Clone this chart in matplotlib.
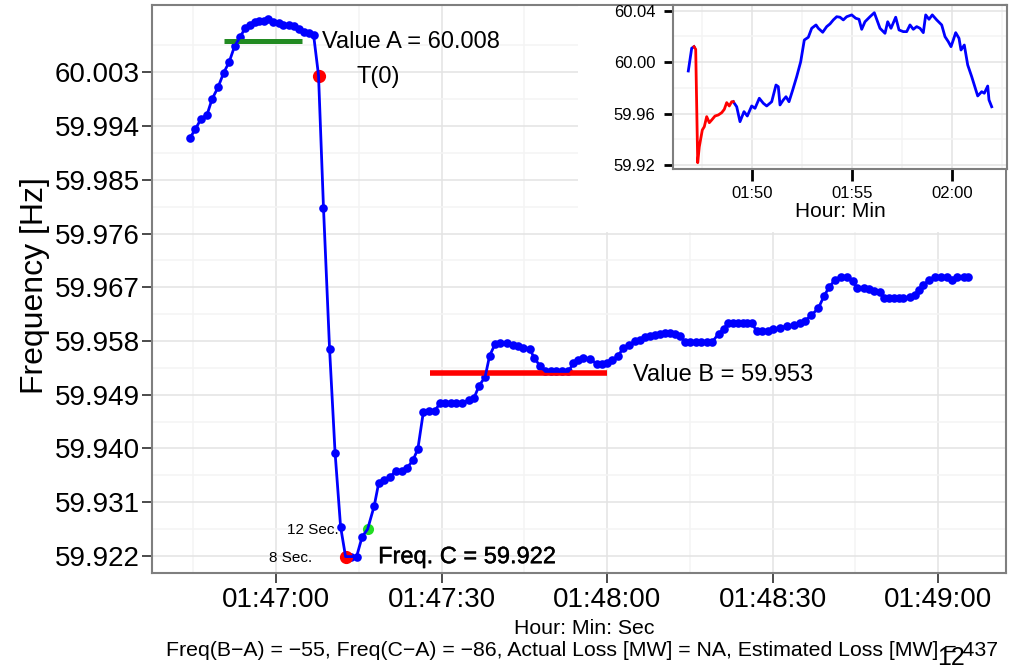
import numpy as np
import matplotlib
matplotlib.use("Agg")
import matplotlib.pyplot as plt
import matplotlib.patheffects as pe
from matplotlib.patches import Rectangle
from matplotlib.ticker import FixedLocator

plt.rcParams['font.family'] = ['Liberation Sans', 'DejaVu Sans']

# ---------------- data (main panel) ----------------
# seconds after 01:47:00
sec = [-15.6, -14.6, -13.6, -12.5, -11.6, -10.5, -9.5, -8.5, -7.5, -6.5,
       -5.6, -4.7, -3.9, -3.0, -2.1, -1.4, -0.5, 0.5, 1.3, 2.4,
       3.3, 4.2, 5.1, 5.9, 6.8, 7.7, 8.6, 9.7, 10.7, 11.7,
       12.6, 13.6, 14.6, 15.6, 16.6, 17.8, 18.6, 19.6, 20.7, 21.7,
       22.8, 23.7, 24.8, 25.7, 26.7, 27.8, 28.8, 29.7, 30.7, 31.7,
       32.7, 33.7, 34.9, 35.9, 36.8, 37.9, 38.7, 39.7, 40.6, 41.8,
       43.0, 43.9, 44.8, 46.0, 46.8, 47.9, 48.8, 49.8, 50.8, 51.8,
       53.0, 53.9, 54.8, 55.7, 56.9, 58.1, 59.1, 60.0, 60.9, 62.0,
       62.9, 63.9, 65.1, 66.0, 66.9, 67.8, 68.7, 69.6, 70.5, 71.4,
       72.3, 73.2, 74.1, 75.1, 76.1, 77.1, 78.1, 79.1, 80.2, 81.1,
       82.0, 82.9, 83.8, 84.6, 85.4, 86.2, 87.1, 88.1, 89.2, 90.1,
       91.4, 92.6, 93.8, 95.0, 95.9, 97.0, 98.3, 99.3, 100.3, 101.3,
       102.4, 103.4, 104.5, 105.3, 106.5, 107.4, 108.4, 109.4, 110.2, 111.1,
       112.0, 112.9, 113.7, 114.9, 115.8, 116.6, 117.3, 118.4, 119.5, 120.5,
       121.6, 122.5, 123.4, 124.6, 125.5]
freq = [59.9920, 59.9935, 59.9952, 59.9959, 59.9985, 60.0005, 60.0029, 60.0047, 60.0074, 60.0089,
        60.0104, 60.0110, 60.0115, 60.0116, 60.0116, 60.0119, 60.0114, 60.0112, 60.0110, 60.0109,
        60.0108, 60.0102, 60.0097, 60.0095, 60.0093, 60.0025, 59.9803, 59.9567, 59.9393, 59.9269,
        59.9219, 59.9219, 59.9219, 59.9252, 59.9265, 59.9304, 59.9342, 59.9348, 59.9352, 59.9363,
        59.9363, 59.9367, 59.9380, 59.9399, 59.9461, 59.9462, 59.9463, 59.9476, 59.9476, 59.9476,
        59.9476, 59.9476, 59.9481, 59.9485, 59.9505, 59.9520, 59.9555, 59.9575, 59.9576, 59.9576,
        59.9574, 59.9572, 59.9569, 59.9567, 59.9551, 59.9538, 59.9529, 59.9529, 59.9529, 59.9529,
        59.9529, 59.9543, 59.9548, 59.9551, 59.9550, 59.9542, 59.9542, 59.9543, 59.9548, 59.9555,
        59.9568, 59.9573, 59.9580, 59.9582, 59.9586, 59.9588, 59.9590, 59.9592, 59.9593, 59.9593,
        59.9592, 59.9588, 59.9579, 59.9579, 59.9579, 59.9579, 59.9579, 59.9579, 59.9592, 59.9600,
        59.9610, 59.9610, 59.9610, 59.9610, 59.9610, 59.9610, 59.9597, 59.9597, 59.9597, 59.9600,
        59.9602, 59.9605, 59.9606, 59.9610, 59.9614, 59.9623, 59.9635, 59.9655, 59.9671, 59.9682,
        59.9688, 59.9687, 59.9681, 59.9668, 59.9668, 59.9667, 59.9663, 59.9662, 59.9652, 59.9652,
        59.9652, 59.9652, 59.9652, 59.9654, 59.9657, 59.9665, 59.9674, 59.9682, 59.9688, 59.9688,
        59.9688, 59.9682, 59.9687, 59.9687, 59.9687]

x_ticks = [0, 30, 60, 90, 120]
x_tick_labels = ["01:47:00", "01:47:30", "01:48:00", "01:48:30", "01:49:00"]
y_ticks = [59.922, 59.931, 59.940, 59.949, 59.958, 59.967, 59.976, 59.985, 59.994, 60.003]

value_a = 60.0083
value_a_span = (-9.4, 4.7)
value_b = 59.9527
value_b_span = (27.9, 59.9)
t0_point = (7.7, 60.0023)
c_point = (12.6, 59.9219)
green_point = (16.6, 59.9265)
freq_c = 59.922

# ---------------- data (inset) ----------------
# minutes after 00:00 (110 = 01:50)
ins_pre_min = [106.80, 106.97, 107.085]
ins_pre_f = [59.9931, 60.0108, 60.0120]
ins_red_min = [107.085, 107.17, 107.27, 107.35, 107.50, 107.60, 107.72, 107.85, 107.97,
               108.135, 108.30, 108.47, 108.60, 108.72, 108.85, 108.97, 109.05]
ins_red_f = [60.0120, 60.0100, 59.9218, 59.9342, 59.9472, 59.9498, 59.9576, 59.9529, 59.9550,
             59.9581, 59.9589, 59.9607, 59.9633, 59.9685, 59.9659, 59.9692, 59.9692]
ins_post_min = [109.05, 109.22, 109.385, 109.585, 109.75, 109.97, 110.135, 110.35, 110.55, 110.72,
                110.97, 111.185, 111.30, 111.385, 111.55, 111.685, 111.835, 112.02, 112.22, 112.42,
                112.60, 112.80, 112.97, 113.185, 113.30, 113.52, 113.72, 113.885, 114.05, 114.22,
                114.385, 114.55, 114.72, 114.97, 115.17, 115.335, 115.47, 115.635, 115.885, 116.10,
                116.22, 116.385, 116.635, 116.77, 116.935, 117.17, 117.335, 117.55, 117.72, 117.885,
                118.05, 118.22, 118.385, 118.55, 118.67, 118.835, 119.00, 119.22, 119.47, 119.635,
                119.80, 119.935, 120.05, 120.17, 120.335, 120.435, 120.60, 120.77, 120.97, 121.10,
                121.27, 121.47, 121.60, 121.77, 121.835, 121.97]
ins_post_f = [59.9692, 59.9653, 59.9537, 59.9615, 59.9581, 59.9659, 59.9641, 59.9719, 59.9680, 59.9659,
              59.9692, 59.9822, 59.9809, 59.9667, 59.9706, 59.9731, 59.9692, 59.9783, 59.9887, 60.0003,
              60.0172, 60.0193, 60.0263, 60.0289, 60.0263, 60.0232, 60.0276, 60.0297, 60.0328, 60.0353,
              60.0349, 60.0328, 60.0353, 60.0367, 60.0341, 60.0333, 60.0255, 60.0314, 60.0353, 60.0384,
              60.0333, 60.0263, 60.0224, 60.0314, 60.0263, 60.0349, 60.0250, 60.0237, 60.0237, 60.0289,
              60.0255, 60.0276, 60.0263, 60.0229, 60.0367, 60.0333, 60.0367, 60.0328, 60.0289, 60.0198,
              60.0159, 60.0120, 60.0172, 60.0229, 60.0185, 60.0094, 60.0133, 59.9978, 59.9887, 59.9822,
              59.9737, 59.9770, 59.9758, 59.9814, 59.9706, 59.9653]
ins_x_ticks = [110, 115, 120]
ins_x_labels = ["01:50", "01:55", "02:00"]
ins_y_ticks = [59.92, 59.96, 60.00, 60.04]

subtitle = ("Freq(B\u2212A) = \u221255, Freq(C\u2212A) = \u221286, Actual Loss [MW] = NA, "
            "Estimated Loss [MW] = 437")

# ---------------- figure ----------------
W, H = 1022, 668
fig = plt.figure(figsize=(W / 100, H / 100), dpi=100)


def fx(px):
    return px / W


def fy(py):
    return 1 - py / H


BORDER = '#7f7f7f'
TICKC = '#1a1a1a'
GMAJ = '#e3e3e3'
GMIN = '#f4f4f4'

ax = fig.add_axes([fx(152), fy(573), fx(1006) - fx(152), fy(4.5) - fy(573)])
ax.set_xlim(-22.48, 132.3)
ax.set_ylim(59.91915, 60.01435)
ax.set_xticks(x_ticks)
ax.set_xticklabels(x_tick_labels)
ax.set_yticks(y_ticks)
ax.set_yticklabels([f"{v:.3f}" for v in y_ticks])
ax.xaxis.set_minor_locator(FixedLocator([-15, 15, 45, 75, 105]))
ax.yaxis.set_minor_locator(FixedLocator([v + 0.0045 for v in y_ticks]))
ax.set_axisbelow(True)
ax.grid(which='major', color=GMAJ, lw=1.1)
ax.grid(which='minor', color=GMIN, lw=1.1)
ax.tick_params(which='major', length=7, width=1.1, color=TICKC, labelsize=20,
               labelcolor='black', pad=2)
ax.tick_params(axis='x', which='major', pad=3)
ax.tick_params(which='minor', length=0)
for s in ax.spines.values():
    s.set_color(BORDER)
    s.set_linewidth(1.5)

ax.plot(sec, freq, 'o', color='blue', ms=6.2, mec='none', zorder=3)
ax.hlines(value_a, *value_a_span, color='#228B22', lw=3.6, zorder=3.5)
ax.hlines(value_b, *value_b_span, color='red', lw=4.0, zorder=3.5)
ax.plot(*t0_point, 'o', color='red', ms=9.5, mec='none', zorder=4)
ax.plot(*c_point, 'o', color='red', ms=9.5, mec='none', zorder=4)
ax.plot(*green_point, 'o', color='#22dd22', ms=8, mec='none', zorder=4)
ax.plot(sec, freq, '-', color='blue', lw=2.0, zorder=5)

ax.text(8.34, 60.0081, f"Value A = {value_a:.3f}", fontsize=17, ha='left', va='center')
ax.text(14.5, 60.0022, "T(0)", fontsize=17, ha='left', va='center')
ax.text(64.7, 59.9523, f"Value B = {value_b:.3f}", fontsize=17, ha='left', va='center')
ax.text(18.5, 59.9218, f"Freq. C = {freq_c:.3f}", fontsize=17, ha='left', va='center',
        path_effects=[pe.withStroke(linewidth=0.3, foreground='black')])
ax.text(11.3, 59.9263, "12 Sec.", fontsize=11, ha='right', va='center')
ax.text(6.6, 59.9216, "8 Sec.", fontsize=11, ha='right', va='center')

fig.text(fx(35), fy(286), "Frequency [Hz]", fontsize=23, rotation=90, ha='center', va='center')
fig.text(fx(584), fy(629), "Hour: Min: Sec", fontsize=15.3, ha='center', va='center')
fig.text(fx(582), fy(651), subtitle, fontsize=15.3, ha='center', va='center')
fig.text(fx(951), fy(658), "12", fontsize=18, ha='center', va='center')

# white background behind the inset
fig.add_artist(Rectangle((fx(578), fy(232)), fx(1005) - fx(578), fy(6) - fy(232),
                         transform=fig.transFigure, facecolor='white', edgecolor='none',
                         zorder=0.5))

ins = fig.add_axes([fx(673), fy(169), fx(1007) - fx(673), fy(5) - fy(169)], zorder=1)
ins.set_xlim(106.035, 122.735)
ins.set_ylim(59.9169, 60.0444)
ins.set_xticks(ins_x_ticks)
ins.set_xticklabels(ins_x_labels)
ins.set_yticks(ins_y_ticks)
ins.set_yticklabels([f"{v:.2f}" for v in ins_y_ticks])
ins.xaxis.set_minor_locator(FixedLocator([107.5, 112.5, 117.5, 122.5]))
ins.yaxis.set_minor_locator(FixedLocator([59.94, 59.98, 60.02]))
ins.set_axisbelow(True)
ins.grid(which='major', color=GMAJ, lw=1.1)
ins.grid(which='minor', color=GMIN, lw=1.1)
ins.tick_params(which='minor', length=0)
ins.tick_params(axis='y', which='major', length=6.7, width=2, color='black',
                labelsize=12, pad=6)
ins.tick_params(axis='x', which='major', length=8.5, width=2, color='black',
                labelsize=12, pad=3.5)
for s in ins.spines.values():
    s.set_color(BORDER)
    s.set_linewidth(1.5)
ins.plot(ins_pre_min, ins_pre_f, '-', color='blue', lw=2)
ins.plot(ins_post_min, ins_post_f, '-', color='blue', lw=2)
ins.plot(ins_red_min, ins_red_f, '-', color='red', lw=2)
ins.set_xlabel("Hour: Min", fontsize=15, labelpad=1)

fig.savefig("out.png", dpi=100)
